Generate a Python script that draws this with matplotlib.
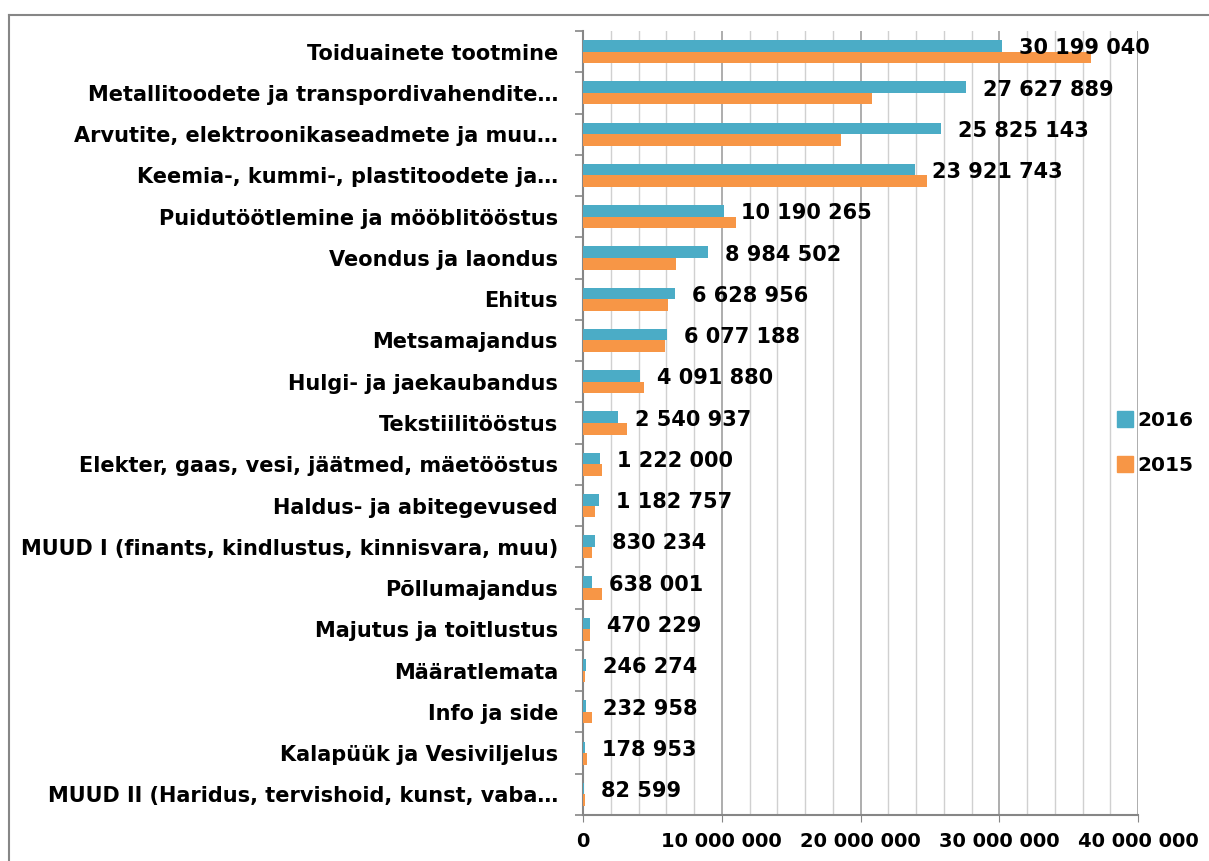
import numpy as np
import matplotlib.pyplot as plt
from matplotlib.lines import Line2D
from matplotlib.ticker import MultipleLocator, FuncFormatter

plt.rcParams['font.family'] = ['DejaVu Sans']
plt.rcParams['font.weight'] = 'bold'

# Data (top to bottom)
categories = [
    "Toiduainete tootmine",
    "Metallitoodete ja transpordivahendite…",
    "Arvutite, elektroonikaseadmete ja muu…",
    "Keemia-, kummi-, plastitoodete ja…",
    "Puidutöötlemine ja mööblitööstus",
    "Veondus ja laondus",
    "Ehitus",
    "Metsamajandus",
    "Hulgi- ja jaekaubandus",
    "Tekstiilitööstus",
    "Elekter, gaas, vesi, jäätmed, mäetööstus",
    "Haldus- ja abitegevused",
    "MUUD I (finants, kindlustus, kinnisvara, muu)",
    "Põllumajandus",
    "Majutus ja toitlustus",
    "Määratlemata",
    "Info ja side",
    "Kalapüük ja Vesiviljelus",
    "MUUD II (Haridus, tervishoid, kunst, vaba…",
]
v2016 = [30199040, 27627889, 25825143, 23921743, 10190265, 8984502, 6628956,
         6077188, 4091880, 2540937, 1222000, 1182757, 830234, 638001, 470229,
         246274, 232958, 178953, 82599]
v2015 = [36600000, 20800000, 18600000, 24800000, 11050000, 6700000, 6100000,
         5900000, 4400000, 3200000, 1350000, 840000, 670000, 1370000, 530000,
         120000, 670000, 260000, 140000]

c2016 = "#4BACC6"
c2015 = "#F79646"
fs = 15

fig = plt.figure(figsize=(12.09, 8.61), dpi=100)
ax = fig.add_axes([583 / 1209, 1 - 815 / 861, (1138 - 583) / 1209, (815 - 31) / 861])

y = np.arange(len(categories))
h = 0.28
ax.barh(y - h / 2, v2016, height=h, color=c2016, zorder=3)
ax.barh(y + h / 2, v2015, height=h, color=c2015, zorder=3)

fmt = lambda v: f"{int(v):,}".replace(",", " ")
for yi, v in zip(y, v2016):
    ax.annotate(fmt(v), (v, yi - 0.08), xytext=(17, 0), textcoords="offset pixels",
                va="center", ha="left", fontsize=fs, fontweight="bold", zorder=4)

ax.set_xlim(0, 40000000)
ax.set_ylim(len(categories) - 0.5, -0.5)

ax.xaxis.set_major_locator(MultipleLocator(10000000))
ax.xaxis.set_minor_locator(MultipleLocator(2000000))
ax.xaxis.set_major_formatter(FuncFormatter(lambda v, p: fmt(v)))
ax.grid(axis="x", which="minor", color="#D0D0D0", lw=1, zorder=0)
ax.grid(axis="x", which="major", color="#A0A0A0", lw=1.2, zorder=0)
ax.tick_params(axis="x", which="major", length=5, color="#868686", pad=7, labelsize=14)
ax.tick_params(axis="x", which="minor", length=0)

ax.set_yticks(y)
ax.set_yticklabels(categories, fontsize=fs, fontweight="bold")
ax.set_yticks(np.arange(-0.5, len(categories)), minor=True)
ax.tick_params(axis="y", which="major", length=0, pad=18)
ax.tick_params(axis="y", which="minor", length=6, color="#868686", width=1.2)

for s in ["top", "right"]:
    ax.spines[s].set_visible(False)
for s in ["left", "bottom"]:
    ax.spines[s].set_color("#868686")
    ax.spines[s].set_linewidth(1.5)

handles = [Line2D([], [], marker="s", ls="", color=c2016, markersize=11),
           Line2D([], [], marker="s", ls="", color=c2015, markersize=11)]
fig.legend(handles, ["2016", "2015"], loc="center left", bbox_to_anchor=(1115 / 1209, 1 - 443 / 861),
           frameon=False, borderpad=0, borderaxespad=0, handlelength=1.0, handletextpad=0.1,
           labelspacing=1.25, prop={"weight": "bold", "size": 14.5})

# outer chart border
fig.add_artist(Line2D([9 / 1209, 9 / 1209], [0, 1 - 15 / 861], color="#868686", lw=1.5))
fig.add_artist(Line2D([9 / 1209, 1], [1 - 15 / 861, 1 - 15 / 861], color="#868686", lw=1.5))

fig.savefig("out.png", dpi=100)
